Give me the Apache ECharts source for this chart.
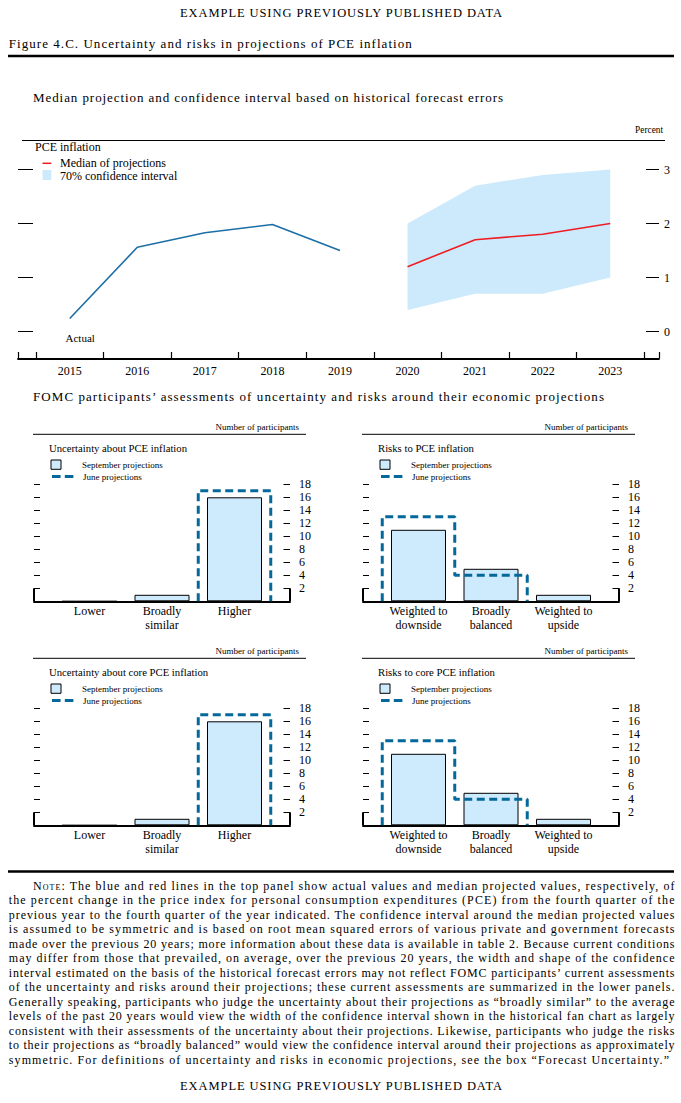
<!DOCTYPE html>
<html><head><meta charset="utf-8">
<script src="https://cdn.jsdelivr.net/npm/echarts@6/dist/echarts.min.js"></script>
<style>
html,body{margin:0;padding:0;background:#fff;}
#wrap{position:relative;width:681px;height:1103px;overflow:hidden;background:#fff;}
#chart{position:absolute;left:0;top:0;width:681px;height:1103px;}
#overlay{position:absolute;left:0;top:0;width:681px;height:1103px;pointer-events:none;}
.t{position:absolute;white-space:pre;font-family:"Liberation Serif",serif;color:#000;}
</style></head><body>
<div id="wrap"><div id="chart"></div><div id="overlay"></div></div>
<script>
// ---------------- DATA ----------------
const years = [2015, 2016, 2017, 2018, 2019, 2020, 2021, 2022, 2023];
const actualYears = [2015, 2016, 2017, 2018, 2019];
const actualPCE = [0.24, 1.56, 1.83, 1.98, 1.50];
const projYears = [2020, 2021, 2022, 2023];
const medianPCE = [1.2, 1.7, 1.8, 2.0];
const ciLow = [0.4, 0.7, 0.7, 1.0];
const ciHigh = [2.0, 2.7, 2.9, 3.0];
const pceTicks = [0, 1, 2, 3];
const countTicks = [2, 4, 6, 8, 10, 12, 14, 16, 18];
const uncertaintyCats = ['Lower', 'Broadly\nsimilar', 'Higher'];
const riskCats = ['Weighted to\ndownside', 'Broadly\nbalanced', 'Weighted to\nupside'];
const uncPCE_sep = [0, 1, 16];
const uncPCE_jun = [0, 0, 17];
const riskPCE_sep = [11, 5, 1];
const riskPCE_jun = [13, 4, 0];
const uncCore_sep = [0, 1, 16];
const uncCore_jun = [0, 0, 17];
const riskCore_sep = [11, 5, 1];
const riskCore_jun = [13, 4, 0];

// ---------------- STYLE ----------------
const FF = '"Liberation Serif", "Times New Roman", serif';
const BAND = '#cdeafc';
const BARFILL = '#cdebfd';
const DASHCOL = '#05689b';
const BLUE = '#1c6ea6';
const RED = '#ee1d23';

const grids = [], xAxes = [], yAxes = [], series = [], graphics = [];

function txt(text, x, y, size, align, lh) {
  const st = { text: text, x: x, y: y, font: size + 'px ' + FF, fill: '#000',
    align: align || 'left', verticalAlign: 'middle',
    textAlign: align || 'left', textVerticalAlign: 'middle' };
  if (lh) st.lineHeight = lh;
  graphics.push({ type: 'text', silent: true, style: st });
}
function hline(x1, x2, y, w, color, dash) {
  const st = { stroke: color || '#000', lineWidth: w || 1 };
  if (dash) st.lineDash = dash;
  graphics.push({ type: 'line', silent: true, shape: { x1: x1, y1: y, x2: x2, y2: y }, style: st });
}

// ---------------- TOP CHART ----------------
grids.push({ left: 18, width: 641, top: 142.5, height: 216 });
const xMin = 2014.234, xMax = 2023.722;
const yearBounds = [xMin].concat(years.map(v => v - 0.5), [years[years.length - 1] + 0.5, xMax]);
xAxes.push({
  type: 'value', gridIndex: 0, min: xMin, max: xMax,
  axisLine: { show: true, onZero: false, lineStyle: { color: '#000', width: 1.8 } },
  axisTick: { show: true, inside: true, length: 6.5, customValues: yearBounds, lineStyle: { color: '#000', width: 1.2 } },
  axisLabel: { show: true, customValues: years, formatter: v => String(Math.round(v)), margin: 6,
    color: '#000', fontFamily: FF, fontSize: 12 },
  splitLine: { show: false }
});
yAxes.push({
  type: 'value', gridIndex: 0, position: 'left', min: -0.5, max: 3.5,
  axisLine: { show: false, onZero: false },
  axisTick: { show: true, inside: true, length: 15, customValues: pceTicks, lineStyle: { color: '#000', width: 1 } },
  axisLabel: { show: false }, splitLine: { show: false }
});
yAxes.push({
  type: 'value', gridIndex: 0, position: 'right', min: -0.5, max: 3.5,
  axisLine: { show: false, onZero: false },
  axisTick: { show: true, inside: true, length: 13, customValues: pceTicks, lineStyle: { color: '#000', width: 1 } },
  axisLabel: { show: true, customValues: pceTicks, margin: 5, color: '#000', fontFamily: FF, fontSize: 12 },
  splitLine: { show: false }
});
const zip = (a, b) => a.map((v, i) => [v, b[i]]);
// 70% confidence band drawn as one polygon through the axes' scales
series.push({
  type: 'custom', xAxisIndex: 0, yAxisIndex: 0, silent: true, z: 1,
  data: projYears.map((y, i) => [y, ciLow[i], ciHigh[i]]),
  encode: { x: 0, y: [1, 2] },
  renderItem: function (params, api) {
    if (params.dataIndex !== 0) return null;
    const upper = projYears.map((y, i) => api.coord([y, ciHigh[i]]));
    const lower = projYears.map((y, i) => api.coord([y, ciLow[i]])).reverse();
    return { type: 'polygon', shape: { points: upper.concat(lower) }, style: { fill: BAND } };
  }
});
series.push({ type: 'line', xAxisIndex: 0, yAxisIndex: 0, data: zip(actualYears, actualPCE),
  symbol: 'none', lineStyle: { color: BLUE, width: 1.6 }, silent: true, z: 3 });
series.push({ type: 'line', xAxisIndex: 0, yAxisIndex: 0, data: zip(projYears, medianPCE),
  symbol: 'none', lineStyle: { color: RED, width: 1.6 }, silent: true, z: 3 });

hline(22, 665, 140.5, 1);
txt('Percent', 663, 130, 9.3, 'right');
txt('PCE inflation', 35, 147, 12, 'left', 12);
hline(42.5, 51.3, 163.3, 1.5, RED);
txt('Median of projections', 60, 163, 12, 'left', 12);
graphics.push({ type: 'rect', silent: true, shape: { x: 42.5, y: 170, width: 8.8, height: 10 }, style: { fill: BAND } });
txt('70% confidence interval', 60, 175.5, 12, 'left', 12);
txt('Actual', 65.5, 337.5, 11);

// ---------------- LOWER PANELS ----------------
const panels = [
  { title: 'Uncertainty about PCE inflation', cats: uncertaintyCats, sep: uncPCE_sep, jun: uncPCE_jun, col: 0, row: 0 },
  { title: 'Risks to PCE inflation', cats: riskCats, sep: riskPCE_sep, jun: riskPCE_jun, col: 1, row: 0 },
  { title: 'Uncertainty about core PCE inflation', cats: uncertaintyCats, sep: uncCore_sep, jun: uncCore_jun, col: 0, row: 1 },
  { title: 'Risks to core PCE inflation', cats: riskCats, sep: riskCore_sep, jun: riskCore_jun, col: 1, row: 1 }
];
function stepPath(vals) {
  const pts = [[-0.5, 0]];
  vals.forEach((v, i) => { pts.push([i - 0.5, v]); pts.push([i + 0.5, v]); });
  pts.push([vals.length - 0.5, 0]);
  while (pts.length > 1 && pts[0][1] === 0 && pts[1][1] === 0) pts.shift();
  while (pts.length > 1 && pts[pts.length - 1][1] === 0 && pts[pts.length - 2][1] === 0) pts.pop();
  return pts;
}
const pMin = -0.7655, pMax = 2.7655;
panels.forEach((p, k) => {
  const dx = p.col * 329, dy = p.row * 224;
  const gi = k + 1;
  grids.push({ left: 34 + dx, width: 256, top: 484.3 + dy, height: 117 });
  xAxes.push({
    type: 'value', gridIndex: gi, min: pMin, max: pMax,
    axisLine: { show: true, onZero: false, lineStyle: { color: '#000', width: 2 } },
    axisTick: { show: true, inside: true, length: 13, customValues: [pMin, pMax], lineStyle: { color: '#000', width: 2 } },
    axisLabel: { show: true, customValues: [0, 1, 2], formatter: v => p.cats[Math.round(v)],
      margin: 3, lineHeight: 14, color: '#000', fontFamily: FF, fontSize: 12 },
    splitLine: { show: false }
  });
  const yl = yAxes.length;
  yAxes.push({
    type: 'value', gridIndex: gi, position: 'left', min: 0, max: 18,
    axisLine: { show: false, onZero: false },
    axisTick: { show: true, inside: true, length: 6, customValues: countTicks, lineStyle: { color: '#000', width: 1 } },
    axisLabel: { show: false }, splitLine: { show: false }
  });
  yAxes.push({
    type: 'value', gridIndex: gi, position: 'right', min: 0, max: 18,
    axisLine: { show: false, onZero: false },
    axisTick: { show: true, inside: true, length: 6.5, customValues: countTicks, lineStyle: { color: '#000', width: 1 } },
    axisLabel: { show: true, customValues: countTicks, margin: 9, color: '#000', fontFamily: FF, fontSize: 12 },
    splitLine: { show: false }
  });
  series.push({
    type: 'bar', xAxisIndex: gi, yAxisIndex: yl, barWidth: 55, silent: true,
    data: p.sep.map((v, i) => [i, v]),
    itemStyle: { color: BARFILL, borderColor: '#000', borderWidth: 1 }, z: 2
  });
  series.push({
    type: 'line', xAxisIndex: gi, yAxisIndex: yl, data: stepPath(p.jun), symbol: 'none', silent: true,
    lineStyle: { color: DASHCOL, width: 3, type: [8, 4.5] }, z: 3
  });
  // panel furniture
  hline(33 + dx, 306 + dx, 434.3 + dy, 1);
  txt('Number of participants', 299 + dx, 427 + dy, 9, 'right');
  txt(p.title, 49 + dx, 448 + dy, 10.7);
  graphics.push({ type: 'rect', silent: true, shape: { x: 51 + dx, y: 460 + dy, width: 10, height: 9.3 },
    style: { fill: BARFILL, stroke: '#000', lineWidth: 1 } });
  txt('September projections', 82 + dx, 465 + dy, 9, 'left', 10);
  hline(52 + dx, 73.5 + dx, 476.5 + dy, 3, DASHCOL, [8.6, 4.2]);
  txt('June projections', 83 + dx, 476.5 + dy, 9, 'left', 10);
});

// rules
hline(8, 674, 56, 2.3);
hline(8, 674, 871.5, 2.3);

const chart = echarts.init(document.getElementById('chart'), null, { renderer: 'svg', width: 681, height: 1103 });
chart.setOption({
  animation: false,
  backgroundColor: '#fff',
  grid: grids, xAxis: xAxes, yAxis: yAxes, series: series, graphic: { elements: graphics }
});

// ---------------- HTML TEXT (headings & note) ----------------
const overlay = document.getElementById('overlay');
function addText(html, x, cy, w, size, center) {
  const d = document.createElement('div');
  d.className = 't';
  d.style.fontSize = size + 'px';
  d.style.lineHeight = Math.round(size * 1.15) + 'px';
  d.innerHTML = html;
  overlay.appendChild(d);
  const nat = d.getBoundingClientRect().width;
  const n = d.textContent.length;
  if (w) d.style.letterSpacing = ((w - nat) / Math.max(1, n - 1)) + 'px';
  d.style.top = (cy - Math.round(size * 1.15) / 2) + 'px';
  d.style.left = (center ? x - w / 2 : x) + 'px';
}
addText('EXAMPLE USING PREVIOUSLY PUBLISHED DATA', 341, 12.7, 322, 12.5, true);
addText('Figure 4.C. Uncertainty and risks in projections of PCE inflation', 8.8, 43.5, 403, 13);
addText('Median projection and confidence interval based on historical forecast errors', 33, 97.7, 470, 13);
addText('FOMC participants\u2019 assessments of uncertainty and risks around their economic projections', 33, 396.5, 571, 13);

const noteLines = [
  '<span style="font-variant:small-caps">Note:</span> The blue and red lines in the top panel show actual values and median projected values, respectively, of',
  'the percent change in the price index for personal consumption expenditures (PCE) from the fourth quarter of the',
  'previous year to the fourth quarter of the year indicated. The confidence interval around the median projected values',
  'is assumed to be symmetric and is based on root mean squared errors of various private and government forecasts',
  'made over the previous 20 years; more information about these data is available in table 2. Because current conditions',
  'may differ from those that prevailed, on average, over the previous 20 years, the width and shape of the confidence',
  'interval estimated on the basis of the historical forecast errors may not reflect FOMC participants\u2019 current assessments',
  'of the uncertainty and risks around their projections; these current assessments are summarized in the lower panels.',
  'Generally speaking, participants who judge the uncertainty about their projections as \u201cbroadly similar\u201d to the average',
  'levels of the past 20 years would view the width of the confidence interval shown in the historical fan chart as largely',
  'consistent with their assessments of the uncertainty about their projections. Likewise, participants who judge the risks',
  'to their projections as \u201cbroadly balanced\u201d would view the confidence interval around their projections as approximately',
  'symmetric. For definitions of uncertainty and risks in economic projections, see the box \u201cForecast Uncertainty.\u201d'
];
noteLines.forEach((l, i) => {
  const x = i === 0 ? 33 : 8.8;
  const right = i === noteLines.length - 1 ? 669 : 674.5;
  addText(l, x, 885.7 + i * 14.5, right - x, 12);
});
addText('EXAMPLE USING PREVIOUSLY PUBLISHED DATA', 341, 1086, 322, 12.5, true);
</script>
</body></html>
